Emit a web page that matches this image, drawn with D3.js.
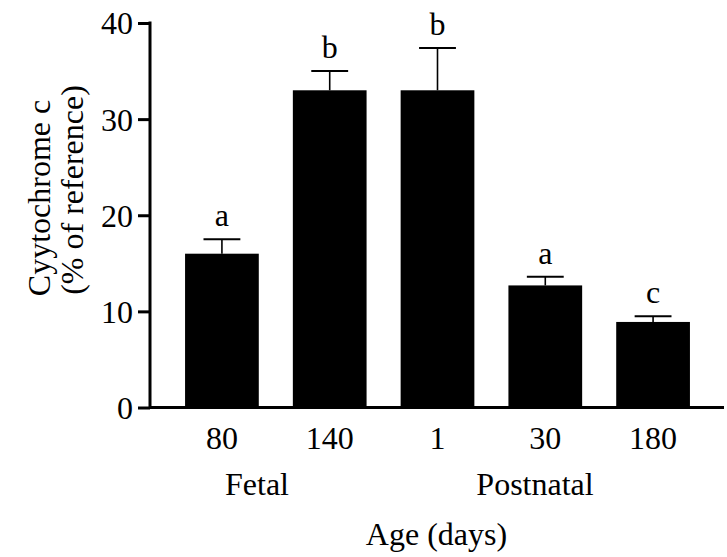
<!DOCTYPE html>
<html>
<head>
<meta charset="utf-8">
<script src="https://cdn.jsdelivr.net/npm/d3@7"></script>
<style>
  html, body { margin: 0; padding: 0; background: #fff; }
  svg { display: block; }
</style>
</head>
<body>
<svg id="chart" width="727" height="557"></svg>
<script>
// Cytochrome c content by age, mean ± SEM
const ages = ["80", "140", "1", "30", "180"];
const means = [16.0, 33.0, 33.0, 12.7, 8.9];
const sems = [1.5, 2.0, 4.4, 0.9, 0.6];
const letters = ["a", "b", "b", "a", "c"];
const yTicks = [0, 10, 20, 30, 40];
const groups = [
  { name: "Fetal", x: 257 },
  { name: "Postnatal", x: 535 }
];

const FONT = 32;
const FAMILY = "'Liberation Serif', 'Times New Roman', Times, 'DejaVu Serif', serif";
const svg = d3.select("#chart");

const x = d3.scaleBand()
  .domain(ages)
  .range([151, 724])
  .paddingInner(0.316)
  .paddingOuter(0.316);

const y = d3.scaleLinear()
  .domain([0, 40])
  .range([407.5, 23]);

// bars
svg.append("g").selectAll("rect")
  .data(ages)
  .join("rect")
  .attr("x", d => x(d))
  .attr("width", x.bandwidth())
  .attr("y", (d, i) => y(means[i]))
  .attr("height", (d, i) => y(0) - y(means[i]))
  .attr("fill", "#000");

// upper error bars
const err = svg.append("g").attr("stroke", "#000");
ages.forEach((d, i) => {
  const cx = x(d) + x.bandwidth() / 2;
  const top = y(means[i] + sems[i]);
  err.append("line")
    .attr("x1", cx).attr("x2", cx)
    .attr("y1", y(means[i])).attr("y2", top)
    .attr("stroke-width", 1.6);
  err.append("line")
    .attr("x1", cx - x.bandwidth() / 4).attr("x2", cx + x.bandwidth() / 4)
    .attr("y1", top).attr("y2", top)
    .attr("stroke-width", 2);
});

// significance letters
svg.append("g").selectAll("text")
  .data(ages)
  .join("text")
  .attr("x", d => x(d) + x.bandwidth() / 2)
  .attr("y", (d, i) => y(means[i] + sems[i]) - 13)
  .attr("text-anchor", "middle")
  .text((d, i) => letters[i]);

// x axis
const xAxis = svg.append("g")
  .attr("transform", `translate(0,${y(0)})`)
  .call(d3.axisBottom(x).tickSize(0).tickSizeOuter(0));
xAxis.select(".domain").attr("stroke-width", 3).attr("d", `M149,0H724`);
xAxis.selectAll(".tick text").attr("y", 41.5).attr("dy", 0);

// y axis
const yAxis = svg.append("g")
  .attr("transform", "translate(150,0)")
  .call(d3.axisLeft(y).tickValues(yTicks).tickSize(12).tickSizeOuter(0).tickPadding(5));
yAxis.select(".domain").attr("stroke-width", 3).attr("d", `M0,${y(40) - 1.5}V${y(0) + 1.5}`);
yAxis.selectAll(".tick line").attr("stroke-width", 3);
yAxis.selectAll(".tick text").attr("dy", "0.34em");

// group labels
svg.append("g").selectAll("text")
  .data(groups)
  .join("text")
  .attr("x", d => d.x)
  .attr("y", 495)
  .attr("text-anchor", "middle")
  .text(d => d.name);

// axis titles
svg.append("text")
  .attr("x", 436.5).attr("y", 545)
  .attr("text-anchor", "middle")
  .text("Age (days)");

svg.append("text")
  .attr("transform", "translate(50,198) rotate(-90)")
  .attr("text-anchor", "middle")
  .text("Cyytochrome c");

svg.append("text")
  .attr("transform", "translate(83,190) rotate(-90)")
  .attr("text-anchor", "middle")
  .text("(% of reference)");

// one typeface and size for every label
svg.selectAll("text")
  .attr("font-family", null)
  .attr("font-size", null)
  .style("font-family", FAMILY)
  .style("font-size", FONT + "px")
  .style("fill", "#000");
svg.selectAll("g").attr("font-family", null).attr("font-size", null);
</script>
</body>
</html>
